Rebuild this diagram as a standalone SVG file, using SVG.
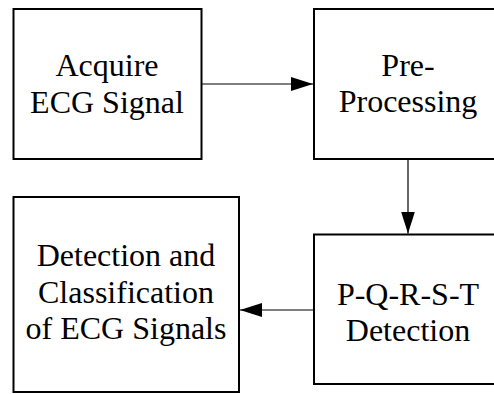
<svg xmlns="http://www.w3.org/2000/svg" width="494" height="394" viewBox="0 0 494 394">
<style>
.box{fill:#fff;stroke:#000;stroke-width:2}
.lbl{font-size:32px;fill:#000;text-anchor:middle}
.con{stroke:#000;stroke-width:1.2;fill:none}
</style>
<defs>
<marker id="ah" markerWidth="22" markerHeight="14" refX="22" refY="7" orient="auto" markerUnits="userSpaceOnUse">
<path d="M0,0 L22,7 L0,14 Z" fill="#000"/>
</marker>
</defs>
<rect width="494" height="394" fill="#fff"/>
<g font-family="Liberation Serif, Times New Roman, serif">
<g id="acquire">
<rect class="box" x="13.5" y="9" width="188" height="150"/>
<text class="lbl" x="107" y="76">Acquire</text>
<text class="lbl" x="107" y="112.5">ECG Signal</text>
</g>
<g id="preprocessing">
<rect class="box" x="314" y="9" width="188" height="150"/>
<text class="lbl" x="408" y="75.5">Pre-</text>
<text class="lbl" x="408" y="112">Processing</text>
</g>
<g id="pqrst">
<rect class="box" x="314" y="234.5" width="188" height="149.5"/>
<text class="lbl" x="408" y="305">P-Q-R-S-T</text>
<text class="lbl" x="408" y="340.5">Detection</text>
</g>
<g id="classification">
<rect class="box" x="13.5" y="197" width="225.5" height="195"/>
<text class="lbl" x="126" y="266">Detection and</text>
<text class="lbl" x="126" y="302.5">Classification</text>
<text class="lbl" x="126" y="338.5">of ECG Signals</text>
</g>
</g>
<g id="connectors">
<line class="con" x1="202" y1="84" x2="313" y2="84" marker-end="url(#ah)"/>
<line class="con" x1="408" y1="160" x2="408" y2="233.5" marker-end="url(#ah)"/>
<line class="con" x1="313" y1="310" x2="240" y2="310" marker-end="url(#ah)"/>
</g>
</svg>
